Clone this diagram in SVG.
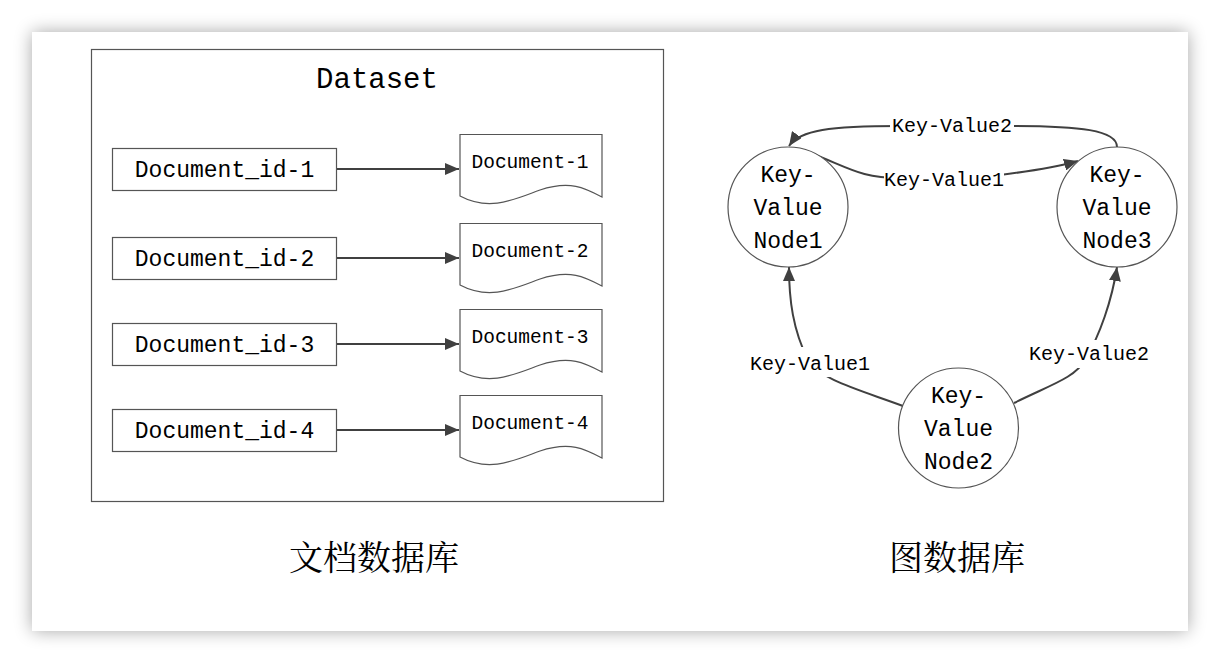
<svg xmlns="http://www.w3.org/2000/svg" width="1220" height="663" viewBox="0 0 1220 663">
<defs>
<filter id="sh" x="-10%" y="-10%" width="120%" height="120%">
<feGaussianBlur in="SourceAlpha" stdDeviation="9"/>
<feComponentTransfer><feFuncA type="linear" slope="0.35"/></feComponentTransfer>
<feMerge><feMergeNode/><feMergeNode in="SourceGraphic"/></feMerge>
</filter>
<marker id="ah" viewBox="0 0 14 12" refX="14" refY="6" markerWidth="14" markerHeight="12" markerUnits="userSpaceOnUse" orient="auto">
<path d="M0,0 L14,6 L0,12 Z" fill="#404040"/>
</marker>
<style>
.box{fill:#fff;stroke:#555;stroke-width:1.2}
.mono{font-family:"Liberation Mono","DejaVu Sans Mono",monospace;fill:#000}
.conn{fill:none;stroke:#404040;stroke-width:2;marker-end:url(#ah)}
.lbl{font-family:"Liberation Mono","DejaVu Sans Mono",monospace;font-size:20px;fill:#000;text-anchor:middle}
.cn{font-family:"Noto Serif CJK SC","Noto Sans CJK SC",serif;font-size:34px;fill:#000;text-anchor:middle}
.node{fill:#fff;stroke:#555;stroke-width:1.2}
.nt{font-family:"Liberation Mono","DejaVu Sans Mono",monospace;font-size:23px;fill:#000;text-anchor:middle}
</style>
</defs>
<rect width="1220" height="663" fill="#fff"/>
<rect x="32" y="32" width="1156" height="599" fill="#fff" filter="url(#sh)"/>

<g id="dataset">
<rect class="box" x="91.5" y="49.5" width="572" height="452"/>
<text class="mono" x="377" y="88" font-size="29" text-anchor="middle">Dataset</text>
</g>

<g id="connectors-doc">
<line class="conn" x1="336" y1="169" x2="459" y2="169"/>
<line class="conn" x1="336" y1="258" x2="459" y2="258"/>
<line class="conn" x1="336" y1="344" x2="459" y2="344"/>
<line class="conn" x1="336" y1="430" x2="459" y2="430"/>
</g>

<g id="docid1"><rect class="box" x="112.5" y="148.5" width="224" height="42"/><text class="mono" x="224.5" y="177" font-size="23" text-anchor="middle">Document_id-1</text></g>
<g id="docid2"><rect class="box" x="112.5" y="237.5" width="224" height="42"/><text class="mono" x="224.5" y="266" font-size="23" text-anchor="middle">Document_id-2</text></g>
<g id="docid3"><rect class="box" x="112.5" y="323.5" width="224" height="42"/><text class="mono" x="224.5" y="352" font-size="23" text-anchor="middle">Document_id-3</text></g>
<g id="docid4"><rect class="box" x="112.5" y="409.5" width="224" height="42"/><text class="mono" x="224.5" y="438" font-size="23" text-anchor="middle">Document_id-4</text></g>

<g id="doc1" transform="translate(0,0)"><path class="box" d="M460,134.5 H602 V197 C585,188 570,180 540,190 C515,199 490,212 460,196 Z"/><text class="mono" x="530" y="168" font-size="19.5" text-anchor="middle">Document-1</text></g>
<g id="doc2" transform="translate(0,89)"><path class="box" d="M460,134.5 H602 V197 C585,188 570,180 540,190 C515,199 490,212 460,196 Z"/><text class="mono" x="530" y="168" font-size="19.5" text-anchor="middle">Document-2</text></g>
<g id="doc3" transform="translate(0,175)"><path class="box" d="M460,134.5 H602 V197 C585,188 570,180 540,190 C515,199 490,212 460,196 Z"/><text class="mono" x="530" y="168" font-size="19.5" text-anchor="middle">Document-3</text></g>
<g id="doc4" transform="translate(0,261)"><path class="box" d="M460,134.5 H602 V197 C585,188 570,180 540,190 C515,199 490,212 460,196 Z"/><text class="mono" x="530" y="168" font-size="19.5" text-anchor="middle">Document-4</text></g>

<g id="connectors-graph">
<path class="conn" d="M1117,147 C1117,130 1080,126 1010,126 L900,126 C830,126 800,130 789,146"/>
<rect x="890" y="113" width="124" height="24" fill="#fff"/>
<text class="lbl" x="952" y="132">Key-Value2</text>
<path class="conn" d="M808,152 C850,168 860,178 900,178 L1000,175 C1040,170 1060,166 1078,161"/>
<rect x="884" y="166" width="120" height="24" fill="#fff"/>
<text class="lbl" x="944" y="186">Key-Value1</text>
<path class="conn" d="M903,406 C860,390 820,380 808,360 C793,330 789,300 789,267"/>
<rect x="750" y="347" width="120" height="30" fill="#fff"/>
<text class="lbl" x="810" y="370">Key-Value1</text>
<path class="conn" d="M1014,403 C1050,385 1075,378 1085,360 C1100,335 1112,300 1117,267"/>
<rect x="1029" y="340" width="120" height="28" fill="#fff"/>
<text class="lbl" x="1089" y="360">Key-Value2</text>
</g>

<g id="node1"><circle class="node" cx="788" cy="207" r="60"/><text class="nt" x="788" y="182">Key-</text><text class="nt" x="788" y="215">Value</text><text class="nt" x="788" y="248">Node1</text></g>
<g id="node3"><circle class="node" cx="1117" cy="207" r="60"/><text class="nt" x="1117" y="182">Key-</text><text class="nt" x="1117" y="215">Value</text><text class="nt" x="1117" y="248">Node3</text></g>
<g id="node2"><circle class="node" cx="958.5" cy="428" r="60"/><text class="nt" x="958.5" y="403">Key-</text><text class="nt" x="958.5" y="436">Value</text><text class="nt" x="958.5" y="469">Node2</text></g>

<g id="captions">
<text class="cn" x="374" y="570">文档数据库</text>
<text class="cn" x="957" y="570">图数据库</text>
</g>
</svg>
